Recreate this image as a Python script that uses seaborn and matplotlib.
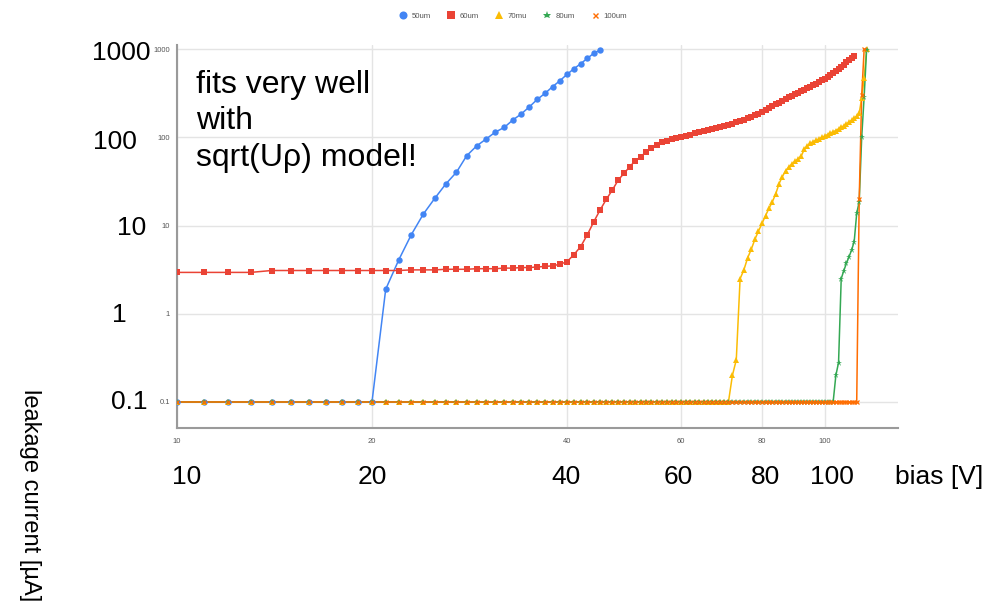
import numpy as np
import pandas as pd
import matplotlib
matplotlib.use("Agg")
import matplotlib.pyplot as plt
from matplotlib.lines import Line2D
from matplotlib.ticker import FixedLocator, NullLocator
import seaborn as sns

# Leakage current [uA] vs bias [V], one reading per volt starting at 10 V
bias_start = 10

leak_50um = [0.1] * 11 + [1.9, 4.1, 7.9, 13.5, 20.4, 29.7, 40.3, 62, 80, 96, 115, 130, 158,
                          185, 223, 271, 317, 377, 440, 520, 602, 687, 791, 902, 982]

leak_60um = [2.95, 2.95, 2.95, 2.95, 3.1, 3.1, 3.1, 3.1, 3.1, 3.1, 3.1, 3.1, 3.1, 3.15, 3.15,
             3.15, 3.2, 3.2, 3.2, 3.25, 3.25, 3.25, 3.3, 3.3, 3.35, 3.35, 3.4, 3.45, 3.5, 3.65,
             3.9, 4.7, 5.8, 7.9, 11.1, 15.1, 19.9, 25.4, 33, 39.3, 46.7, 54.6, 60.6, 69, 75.5,
             82, 88, 92, 96, 99, 102, 105, 108, 111, 115, 118, 121, 125, 128, 132, 136, 140,
             144, 149, 154, 159, 165, 172, 179, 187, 196, 205, 215, 226, 237, 249, 261, 273,
             285, 298, 310, 322, 334, 347, 361, 376, 392, 409, 427, 446, 466, 487, 510, 540,
             570, 600, 635, 670, 710, 750, 795, 840]

leak_70mu = [0.1] * 62 + [0.2, 0.3, 2.5, 3.15, 4.3, 5.4, 7.0, 8.7, 10.6, 13.0, 15.7, 18.7, 23,
                          30, 36, 42, 46, 50, 54, 57, 62, 74, 80, 86, 90, 93, 97, 100, 104, 108,
                          112, 116, 120, 125, 130, 136, 142, 149, 157, 165, 175, 188, 280, 470,
                          1000]

leak_80um = [0.1] * 94 + [0.2, 0.28, 2.5, 3.1, 3.75, 4.45, 5.3, 6.6, 13.8, 18.7, 100, 290, 980]

leak_100um = [0.1] * 103 + [20, 300, 1000]

series_names = ["50um", "60um", "70mu", "80um", "100um"]
series_values = [leak_50um, leak_60um, leak_70mu, leak_80um, leak_100um]
series_colors = ["#4285f4", "#ea4335", "#fbbc04", "#34a853", "#ff6d01"]
series_markers = ["o", "s", "^", "*", "x"]
series_msize = [4.6, 4.4, 4.8, 5.0, 2.4]

x_ticks = [10, 20, 40, 60, 80, 100]
y_ticks = [0.1, 1, 10, 100, 1000]
y_tick_labels = ["0.1", "1", "10", "100", "1000"]

sns.set_style("white")
plt.rcParams["font.family"] = ["Liberation Sans", "DejaVu Sans"]

fig = plt.figure(figsize=(10.02, 6.09), dpi=100)
ax = fig.add_axes([0.1766, 0.2972, 0.7196, 0.6289])
ax.set_xscale("log")
ax.set_yscale("log")

frames = [pd.DataFrame({"bias": np.arange(bias_start, bias_start + len(v)), "current": v})
          for v in series_values]

# lines first, then the point markers above all lines
for i, (df, col) in enumerate(zip(frames, series_colors)):
    sns.lineplot(data=df, x="bias", y="current", ax=ax, color=col, linewidth=1.1,
                 legend=False, zorder=3 + i)
for i, (df, col, mk, ms) in enumerate(zip(frames, series_colors, series_markers,
                                          series_msize)):
    mew = 0.9 if mk == "x" else 0
    sns.lineplot(data=df, x="bias", y="current", ax=ax, color=col, linestyle="",
                 marker=mk, markersize=ms, markeredgewidth=mew, markeredgecolor=col,
                 legend=False, zorder=10 + i)

ax.set_xlim(10, 129.7)
ax.set_ylim(0.0507, 1119)
ax.xaxis.set_major_locator(FixedLocator(x_ticks))
ax.xaxis.set_minor_locator(NullLocator())
ax.yaxis.set_major_locator(FixedLocator(y_ticks))
ax.yaxis.set_minor_locator(NullLocator())
ax.set_xticklabels([str(t) for t in x_ticks])
ax.set_yticklabels(y_tick_labels)
ax.set_xlabel("")
ax.set_ylabel("")

ax.grid(True, color="#e4e4e4", linewidth=1.0)
ax.set_axisbelow(True)
for side in ["top", "right"]:
    ax.spines[side].set_visible(False)
for side in ["left", "bottom"]:
    ax.spines[side].set_color("#9a9a9a")
    ax.spines[side].set_linewidth(1.5)
ax.tick_params(axis="both", which="major", direction="inout", length=8, width=1.2,
               color="#9a9a9a", labelsize=5.5, labelcolor="#555555")
ax.tick_params(axis="x", pad=3)
ax.tick_params(axis="y", pad=1)

# legend row across the top
handles = [Line2D([], [], linestyle="none", marker=mk, color=col,
                  markersize=(ms + 1.2 if mk != "x" else 3.6),
                  markeredgewidth=(1.0 if mk == "x" else 0), markeredgecolor=col)
           for mk, col, ms in zip(series_markers, series_colors, series_msize)]
leg = fig.legend(handles, series_names, loc="center", bbox_to_anchor=(0.512, 0.973),
                 ncol=5, frameon=False, fontsize=5.6, handlelength=1.0, handletextpad=0.6,
                 columnspacing=2.1)
for t in leg.get_texts():
    t.set_color("#555555")

# large axis labels
big = 19
H = 609.0
W = 1002.0
for lab, xr, yc in [("1000", 150, 53), ("100", 137, 142), ("10", 146, 228),
                    ("1", 127, 315), ("0.1", 148, 402)]:
    fig.text(xr / W, 1 - yc / H, lab, fontsize=big, ha="right", va="center", color="black")
for lab, xc in [("10", 187), ("20", 372), ("40", 566), ("60", 678), ("80", 765),
                ("100", 832), ("bias [V]", 939)]:
    fig.text(xc / W, 1 - 477 / H, lab, fontsize=big, ha="center", va="center", color="black")
fig.text(30 / W, 1 - 495 / H, "leakage current [µA]", fontsize=17, rotation=-90,
         ha="center", va="center", color="black")

fig.text(196 / W, 1 - 70 / H, "fits very well\nwith\nsqrt(Uρ) model!", fontsize=23,
         ha="left", va="top", linespacing=1.28, color="black")

fig.savefig("out.png", dpi=100)
